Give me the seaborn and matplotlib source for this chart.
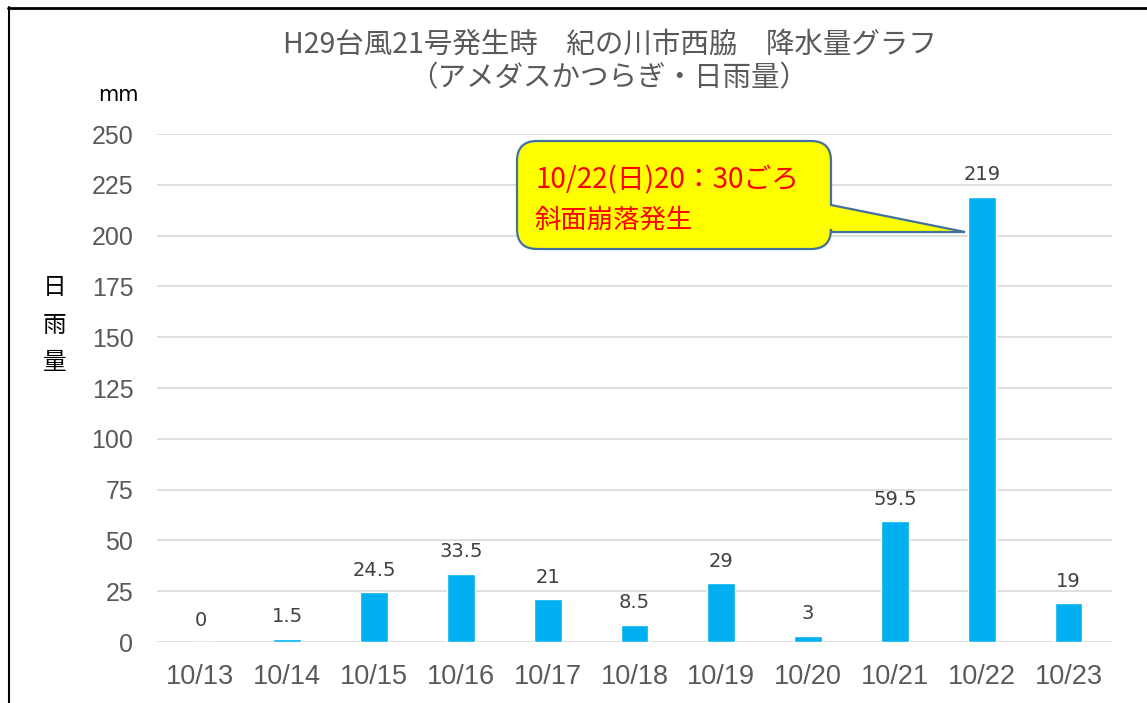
import matplotlib
matplotlib.use("Agg")
import matplotlib.pyplot as plt
import seaborn as sns
from matplotlib import font_manager
from matplotlib.path import Path
from matplotlib.patches import PathPatch
from matplotlib.lines import Line2D

# データ（H29台風21号 紀の川市西脇 アメダスかつらぎ 日雨量）
dates = ['10/13', '10/14', '10/15', '10/16', '10/17', '10/18',
         '10/19', '10/20', '10/21', '10/22', '10/23']
rain = [0, 1.5, 24.5, 33.5, 21, 8.5, 29, 3, 59.5, 219, 19]
y_ticks = [0, 25, 50, 75, 100, 125, 150, 175, 200, 225, 250]

title1 = 'H29台風21号発生時\u3000紀の川市西脇\u3000降水量グラフ'
title2 = '（アメダスかつらぎ・日雨量）'
note1 = '10/22(日)20：30ごろ'
note2 = '斜面崩落発生'

sns.set_style('white')
plt.rcParams['font.family'] = ['Noto Sans CJK JP', 'DejaVu Sans']

names = {f.name for f in font_manager.fontManager.ttflist}
narrow = 'Liberation Sans Narrow' if 'Liberation Sans Narrow' in names else 'Liberation Sans'
tick_y, tick_x = (20, 22) if narrow.endswith('Narrow') else (18, 19.5)

W, H = 1147, 703
fig = plt.figure(figsize=(W / 100, H / 100), dpi=100)
ax = fig.add_axes([157 / W, 1 - 642 / H, (1112 - 157) / W, (642 - 134) / H])

sns.barplot(x=dates, y=rain, color='#00B0F0', saturation=1, width=0.32, ax=ax)
ax.set_xlim(-0.5, len(dates) - 0.5)
ax.set_ylim(0, 250)
ax.set_yticks(y_ticks)
ax.yaxis.grid(True, color='#D9D9D9', lw=1.2)
ax.set_axisbelow(True)
sns.despine(ax=ax, left=True, bottom=True)
ax.set_xlabel('')
ax.set_ylabel('')
ax.tick_params(axis='y', length=0, pad=17, labelcolor='#595959', labelsize=tick_y)
ax.tick_params(axis='x', length=0, pad=16, labelcolor='#595959', labelsize=tick_x)
for lab in ax.get_xticklabels() + ax.get_yticklabels():
    lab.set_family(narrow)

ax.bar_label(ax.containers[0], labels=['%g' % v for v in rain], padding=9,
             fontsize=14, color='#404040', family='DejaVu Sans')

# タイトル
fig.text(610 / W, 1 - 45 / H, title1, ha='center', va='center', fontsize=20.5, color='#595959')
fig.text(609 / W, 1 - 78 / H, title2, ha='center', va='center', fontsize=20.5, color='#595959')
fig.text(118 / W, 1 - 95 / H, 'mm', ha='center', va='center', fontsize=15, color='black',
         family='DejaVu Sans')
fig.text(55 / W, 1 - 325 / H, '日\n雨\n量', ha='center', va='center', fontsize=17,
         color='black', linespacing=1.8)

# 吹き出し（ピクセル座標で作成）
x0, x1, y0, y1, r = 517, 831, 141, 249, 20
ta, tb, tip = 205, 232, (965, 232)
pts = [((x0 + r, y0), Path.MOVETO), ((x1 - r, y0), Path.LINETO),
       ((x1, y0), Path.CURVE3), ((x1, y0 + r), Path.CURVE3),
       ((x1, ta), Path.LINETO), (tip, Path.LINETO), ((x1, tb), Path.LINETO),
       ((x1, y1 - r), Path.LINETO),
       ((x1, y1), Path.CURVE3), ((x1 - r, y1), Path.CURVE3),
       ((x0 + r, y1), Path.LINETO),
       ((x0, y1), Path.CURVE3), ((x0, y1 - r), Path.CURVE3),
       ((x0, y0 + r), Path.LINETO),
       ((x0, y0), Path.CURVE3), ((x0 + r, y0), Path.CURVE3),
       ((x0 + r, y0), Path.CLOSEPOLY)]
verts = [(px / 100, (H - py) / 100) for (px, py), _ in pts]
codes = [c for _, c in pts]
fig.add_artist(PathPatch(Path(verts, codes), transform=fig.dpi_scale_trans,
                         fc='#FFFF00', ec='#41719C', lw=1.6, zorder=5))
fig.text(535 / W, 1 - 180 / H, note1, ha='left', va='center', fontsize=20, color='#FF0000', zorder=6)
fig.text(535 / W, 1 - 220 / H, note2, ha='left', va='center', fontsize=19, color='#FF0000', zorder=6)

# 外枠
fig.add_artist(Line2D([8 / W, 1], [1 - 7.5 / H] * 2, transform=fig.transFigure, color='black', lw=2))
fig.add_artist(Line2D([8.5 / W] * 2, [0, 1 - 7 / H], transform=fig.transFigure, color='black', lw=1.5))

fig.savefig('out.png', dpi=100)
